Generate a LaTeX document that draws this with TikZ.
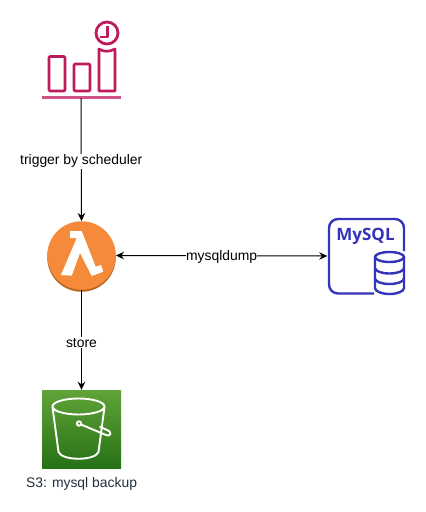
\documentclass[tikz,border=0pt]{standalone}
\usepackage{fontspec}
\setmainfont{Liberation Sans}
\newfontfamily\mysqlfont{Open Sans}
\usetikzlibrary{arrows.meta}
\definecolor{sched}{HTML}{BE1A5E}
\definecolor{lamb}{HTML}{F58B3A}
\definecolor{lambd}{HTML}{B8651F}
\definecolor{mysqlc}{HTML}{3334B9}
\definecolor{sthreel}{HTML}{60A337}
\definecolor{sthreed}{HTML}{277116}
\definecolor{txt}{HTML}{232F3E}
\tikzset{
  conn/.style={draw=black,line width=1pt,-{Stealth[length=8pt,width=7.5pt]}},
  biconn/.style={draw=black,line width=1pt,{Stealth[length=8pt,width=7.5pt]}-{Stealth[length=8pt,width=7.5pt]}},
  lab/.style={font=\fontsize{13.9}{16}\selectfont,inner xsep=0pt,inner ysep=1pt},
  schedline/.style={draw=sched,line width=2.6pt,line join=round,fill=none},
  box/.style={inner sep=0pt,minimum size=0pt},
  dbline/.style={mysqlc,line width=2.4pt},
  bucket/.style={draw=white,line width=1.9pt,line cap=round,line join=round},
}
\begin{document}
\begin{tikzpicture}[x=1pt,y=-1pt]
\useasboundingbox (0,0) rectangle (426,512);
\fill[white] (0,0) rectangle (426,512);
% scheduler icon
\draw[schedline,rounded corners=1pt] (49,56.5) rectangle (65,91);
\draw[schedline,rounded corners=1pt] (74,64) rectangle (90,91);
\draw[schedline] (99,49) .. controls (104,52) and (109,52) .. (115,49) -- (115,91) -- (99,91) -- cycle;
\draw[schedline,line width=2.8pt] (107,33) circle (11);
\draw[schedline] (107.5,26) -- (107.5,37) -- (100,37);
\draw[sched!75!white,line width=3pt] (42,97) -- (121,97);
\coordinate (schedbase) at (81,98);
% lambda
\node[box,circle,fill=lambd,minimum size=68.5pt] at (81.5,257.5) {};
\node (lambda) [box,circle,fill=lamb,minimum size=68.5pt] at (81.5,255.5) {};
\fill[white] (70,231) -- (81.7,231) -- (95.7,266.7) -- (101,265) -- (103.3,271.7) -- (91.7,276) -- (80,253) -- (71.7,275.7) -- (61,275) -- (76.7,238) -- (70,238) -- cycle;
% mysql
\node (mysql) [box,minimum width=78pt,minimum height=77pt] at (366.5,256) {};
\draw[dbline,rounded corners=9pt] (374,293.5) -- (329,293.5) -- (329,219) -- (404,219) -- (404,251);
\node[text=mysqlc,font=\mysqlfont\fontsize{17}{20}\selectfont\bfseries,inner sep=0pt] at (365.5,236) {MySQL};
\draw[dbline,fill=white] (375,257) -- (375,288) arc[start angle=180,end angle=0,x radius=14.5,y radius=6] -- (404,257);
\draw[dbline,fill=white] (389.5,257) ellipse (14.5 and 5);
\draw[dbline] (375,268) arc[start angle=180,end angle=0,x radius=14.5,y radius=5.5];
\draw[dbline] (375,278.5) arc[start angle=180,end angle=0,x radius=14.5,y radius=5.5];
% s3
\node (sthree) [box,minimum width=79pt,minimum height=78pt] at (81.5,429) {};
\shade[top color=sthreel,bottom color=sthreed] (42,390) rectangle (121,468);
\draw[bucket] (78.5,406.5) ellipse (26 and 8);
\draw[bucket] (52.5,407) -- (58.5,452) .. controls (62,461) and (95,461) .. (98.5,452) -- (104.5,407);
\draw[bucket] (79,423.5) circle (2.2);
\draw[bucket] (81,424.5) -- (106,435) .. controls (112,437) and (112,431) .. (106,429.5) -- (100,427);
\node (s3label) [lab,text=txt] at (81.5,484) {S3: mysql backup};
% connectors
\draw[conn] (schedbase) -- node[lab,fill=white,pos=0.49,yshift=-3pt] {trigger by scheduler} (lambda.north);
\draw[conn] (lambda.south) -- node[lab,fill=white,pos=0.52,yshift=-1pt] {store} (sthree.north);
\draw[biconn] (lambda.east) -- node[lab,fill=white,yshift=-1pt] {mysqldump} (mysql.west);
\end{tikzpicture}
\end{document}
